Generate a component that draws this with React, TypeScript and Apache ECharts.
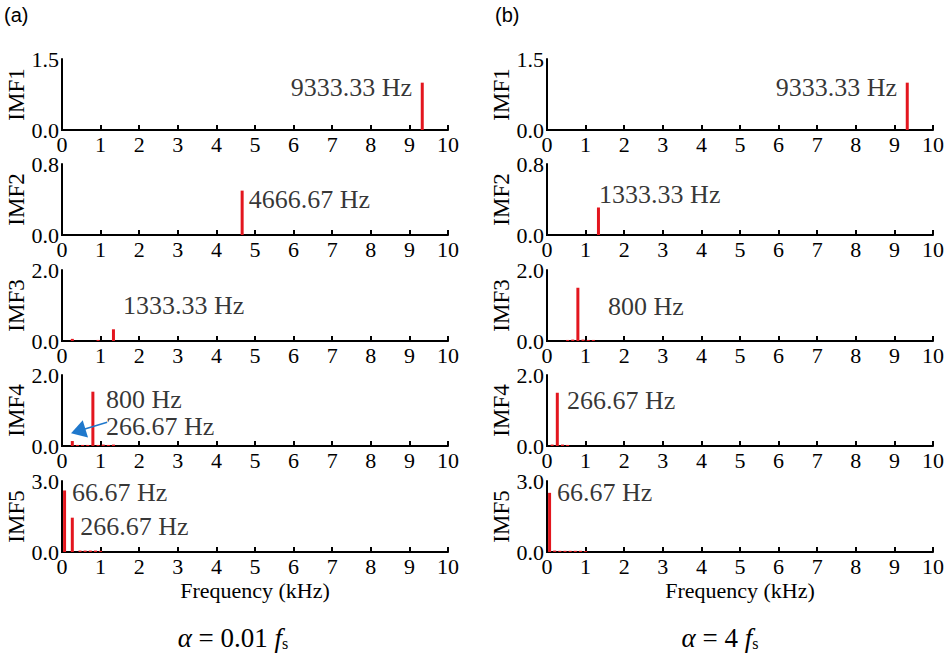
import React, { useEffect, useRef } from "react";
import * as echarts from "echarts";

// ---- data ----
const panelLetters = ["(a)", "(b)"];
const captionsA = ["0.01 "];
const captionsB = ["4 "];
const imfNames = ["IMF1", "IMF2", "IMF3", "IMF4", "IMF5"];
const yMax = [1.5, 0.8, 2.0, 2.0, 3.0];
const xLabel = "Frequency (kHz)";

// spectra [frequency kHz, amplitude]
const specA1 = [[9.333, 1.0]];
const specA2 = [[4.667, 0.5]];
const specA3 = [[0.267, 0.06], [0.933, 0.03], [1.333, 0.33]];
const specA4 = [[0.267, 0.14], [0.4, 0.03], [0.533, 0.03], [0.667, 0.03], [0.8, 1.53], [0.933, 0.03], [1.067, 0.04], [1.2, 0.03], [1.333, 0.04]];
const specA5 = [[0.0667, 2.6], [0.267, 1.45], [0.467, 0.06], [0.6, 0.06], [0.733, 0.06], [0.867, 0.06], [1.0, 0.05]];
const specB1 = [[9.333, 1.0]];
const specB2 = [[1.333, 0.31]];
const specB3 = [[0.533, 0.03], [0.667, 0.04], [0.8, 1.5], [0.933, 0.04], [1.067, 0.03], [1.2, 0.03]];
const specB4 = [[0.133, 0.04], [0.267, 1.5], [0.4, 0.04], [0.533, 0.03]];
const specB5 = [[0.0667, 2.5], [0.2, 0.06], [0.333, 0.05], [0.467, 0.05], [0.6, 0.05], [0.733, 0.05], [0.867, 0.05], [1.0, 0.04]];

// annotations [frequency kHz, amplitude, text, side]
const notesA1 = [[9.07, 0.89, "9333.33 Hz", "left"]];
const notesA2 = [[4.84, 0.4, "4666.67 Hz", "right"]];
const notesA3 = [[1.58, 1.0, "1333.33 Hz", "right"]];
const notesA4 = [[1.14, 1.3, "800 Hz", "right"], [1.14, 0.56, "266.67 Hz", "right"]];
const notesA5 = [[0.26, 2.53, "66.67 Hz", "right"], [0.47, 1.07, "266.67 Hz", "right"]];
const notesB1 = [[9.07, 0.89, "9333.33 Hz", "left"]];
const notesB2 = [[1.35, 0.46, "1333.33 Hz", "right"]];
const notesB3 = [[1.58, 0.97, "800 Hz", "right"]];
const notesB4 = [[0.52, 1.28, "266.67 Hz", "right"]];
const notesB5 = [[0.26, 2.53, "66.67 Hz", "right"]];

// arrow in (a) IMF4: [from], [to]
const arrowA4 = [[1.17, 0.67], [0.42, 0.42]];

const specs = [specA1, specA2, specA3, specA4, specA5, specB1, specB2, specB3, specB4, specB5];
const notes = [notesA1, notesA2, notesA3, notesA4, notesA5, notesB1, notesB2, notesB3, notesB4, notesB5];

const SERIF = "'Liberation Serif', 'Times New Roman', serif";
const RED = "#e3161e";
const BLUE = "#1f78cc";
const INK = "#000000";

export default function App() {
  const ref = useRef<HTMLDivElement>(null);
  useEffect(() => {
    if (!ref.current) return;
    const chart = echarts.init(ref.current, null, { renderer: "svg" });

    const tops = [59, 164, 270, 375, 481];
    const lefts = [62, 547];
    const H = 71;
    const W = 386;

    const grid: any[] = [];
    const xAxis: any[] = [];
    const yAxis: any[] = [];
    const series: any[] = [];
    const axisBars: any[] = [];

    for (let c = 0; c < 2; c++) {
      for (let r = 0; r < 5; r++) {
        const i = c * 5 + r;
        grid.push({ left: lefts[c], top: tops[r], width: W, height: H, containLabel: false });
        axisBars.push({
          type: "rect",
          left: lefts[c] - 1,
          top: tops[r],
          shape: { x: 0, y: 0, width: 2, height: H + 1 },
          style: { fill: INK },
          z: 100,
        });
        xAxis.push({
          type: "value",
          gridIndex: i,
          min: 0,
          max: 10,
          interval: 1,
          name: r === 4 ? xLabel : "",
          nameLocation: "middle",
          nameGap: 27,
          nameTextStyle: { fontFamily: SERIF, fontSize: 22, color: INK },
          axisLine: { show: true, onZero: false, lineStyle: { color: INK, width: 2 } },
          axisTick: { show: true, inside: true, length: 5, lineStyle: { color: INK, width: 2 } },
          axisLabel: { margin: 3, fontFamily: SERIF, fontSize: 22, color: INK },
          splitLine: { show: false },
        });
        yAxis.push({
          type: "value",
          gridIndex: i,
          min: 0,
          max: yMax[r],
          interval: yMax[r],
          name: imfNames[r],
          nameLocation: "middle",
          nameRotate: 90,
          nameGap: 30,
          nameTextStyle: { fontFamily: SERIF, fontSize: 23, color: INK },
          axisLine: { show: true, onZero: false, lineStyle: { color: INK, width: 2 } },
          axisTick: { show: false },
          axisLabel: {
            margin: 3,
            fontFamily: SERIF,
            fontSize: 22,
            color: INK,
            formatter: (v: number) => v.toFixed(1),
          },
          splitLine: { show: false },
        });
        series.push({
          type: "bar",
          xAxisIndex: i,
          yAxisIndex: i,
          barWidth: 3,
          data: specs[i],
          itemStyle: { color: RED },
          z: 3,
        });
        const noteSeries: any = {
          type: "scatter",
          xAxisIndex: i,
          yAxisIndex: i,
          symbolSize: 0,
          silent: true,
          data: notes[i].map((n: any) => ({
            value: [n[0], n[1]],
            label: {
              show: true,
              position: n[3],
              distance: 0,
              formatter: n[2],
              fontFamily: SERIF,
              fontSize: 26,
              color: INK,
            },
          })),
          z: 4,
        };
        if (i === 3) {
          noteSeries.markLine = {
            silent: true,
            symbol: ["none", "triangle"],
            symbolSize: [18, 15],
            label: { show: false },
            lineStyle: { color: BLUE, width: 1.5, type: "solid" },
            data: [[{ coord: arrowA4[0] }, { coord: arrowA4[1] }]],
          };
        }
        series.push(noteSeries);
      }
    }

    const caption = (num: string) => ({
      text: `{a|α} {n|= ${num}}{f|f}{s|s}`,
      rich: {
        a: { fontFamily: SERIF, fontStyle: "italic", fontSize: 27, fill: INK },
        n: { fontFamily: SERIF, fontSize: 27, fill: INK },
        f: { fontFamily: SERIF, fontStyle: "italic", fontSize: 27, fill: INK },
        s: { fontFamily: SERIF, fontSize: 16, fill: INK, verticalAlign: "bottom" },
      },
      align: "center",
      verticalAlign: "middle",
      font: `27px ${SERIF}`,
      fill: INK,
    });

    const graphic: any[] = [
      { type: "text", left: 4, top: 5, style: { text: panelLetters[0], font: "20px 'Liberation Sans', Arial, sans-serif", fill: INK } },
      { type: "text", left: 495, top: 5, style: { text: panelLetters[1], font: "20px 'Liberation Sans', Arial, sans-serif", fill: INK } },
      { type: "text", x: 233, y: 638, style: caption(captionsA[0]) },
      { type: "text", x: 720, y: 638, style: caption(captionsB[0]) },
      ...axisBars,
    ];

    const option: any = {
      animation: false,
      backgroundColor: "#ffffff",
      grid,
      xAxis,
      yAxis,
      series,
      graphic,
    };
    chart.setOption(option);
    return () => chart.dispose();
  }, []);
  return <div ref={ref} style={{ position: "absolute", left: 0, top: 0, width: 948, height: 653 }} />;
}
